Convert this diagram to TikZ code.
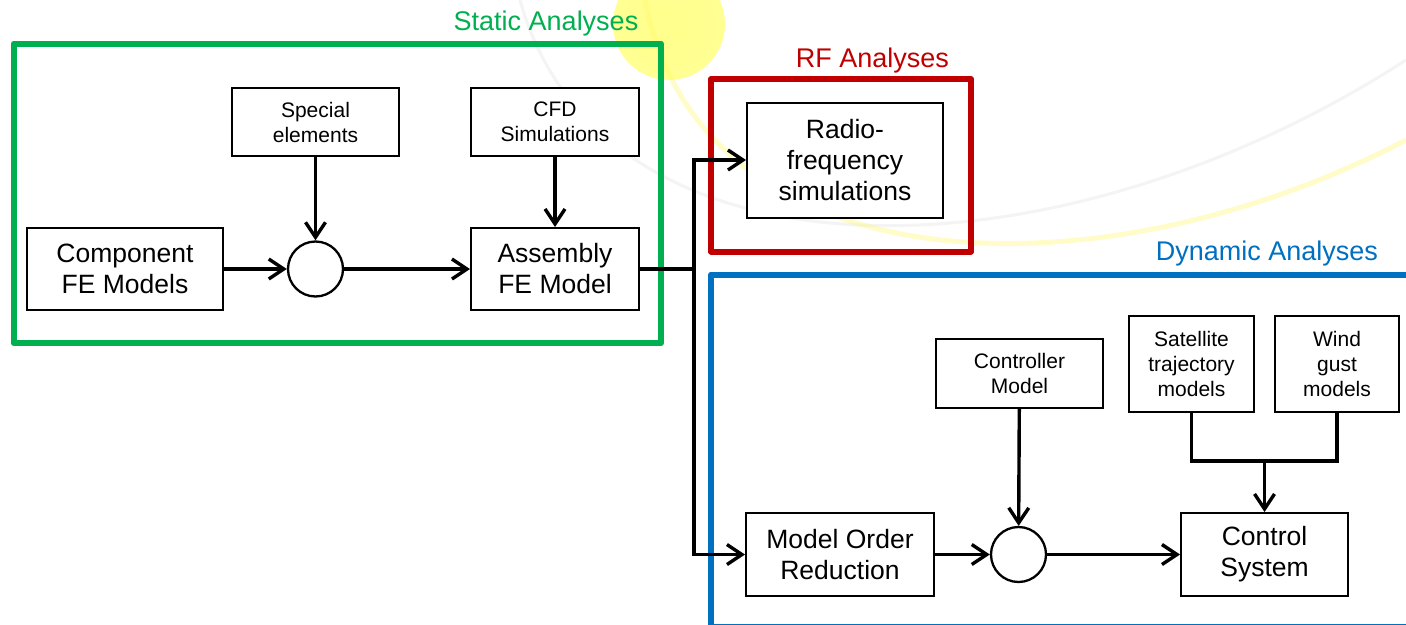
\documentclass[tikz,border=0pt]{standalone}
\usepackage{fontspec}
\setmainfont{Liberation Sans}
\usetikzlibrary{arrows.meta}
\definecolor{sgreen}{HTML}{00B050}
\definecolor{sred}{HTML}{C00000}
\definecolor{sblue}{HTML}{0070C0}
\pgfdeclareradialshading{sunshade}{\pgfpoint{0bp}{0bp}}{%
  color(0bp)=(yellow!45!white); color(30bp)=(yellow!42!white);
  color(40bp)=(yellow!30!white); color(46bp)=(yellow!12!white); color(50bp)=(white)}
\tikzset{
  bigbox/.style={draw, line width=2pt, fill=white, inner sep=0pt, align=center,
    font=\fontsize{26.5}{31}\selectfont},
  smallbox/.style={draw, line width=2pt, fill=white, inner sep=0pt, align=center,
    font=\fontsize{21}{25}\selectfont},
  junc/.style={draw, circle, line width=2.3pt, fill=white, inner sep=0pt, minimum size=55pt},
  conn/.style={line width=3.4pt},
  arr/.style={conn, -{Straight Barb[length=15pt,width=20pt]}},
  frame/.style={line width=6pt, line join=round},
  title/.style={anchor=base, font=\fontsize{27}{30}\selectfont}
}
\begin{document}
\begin{tikzpicture}[x=1pt,y=-1pt]
\clip (0,0) rectangle (1406,624);
\fill[white] (0,0) rectangle (1406,624);
% background decoration
\shade[shading=sunshade] (669,24) circle (56);
\draw[gray!9, line width=3pt] (520,0) .. controls (600,290) and (1050,290) .. (1406,60);
\draw[yellow!60!white, line width=5pt, opacity=0.35] (645,0) .. controls (700,290) and (1100,300) .. (1406,140);
% frames
\draw[frame, sgreen] (13.5,43.5) rectangle (661,343);
\draw[frame, sred] (711,79) rectangle (971,251.5);
\draw[frame, sblue] (711,625.5) -- (711,274.5) -- (1420,274.5);
\draw[frame, sblue, line width=3pt] (711,625) -- (1420,625);
\node[title, text=sgreen] (tstatic) at (546,30) {Static Analyses};
\node[title, text=sred] (trf) at (872.5,67) {RF Analyses};
\node[title, text=sblue] (tdyn) at (1267,260) {Dynamic Analyses};
% static nodes
\node[bigbox, minimum width=196pt, minimum height=82pt] (comp) at (125,269) {Component\\FE Models};
\node[smallbox, minimum width=167pt, minimum height=68pt] (spec) at (315.5,122) {Special\\elements};
\node[smallbox, minimum width=168pt, minimum height=68pt] (cfd) at (555,122) {CFD\\Simulations};
\node[bigbox, minimum width=168pt, minimum height=82pt] (asm) at (555,269) {Assembly\\FE Model};
\node[junc] (c1) at (315.5,269) {};
% RF node
\node[bigbox, minimum width=196pt, minimum height=115pt] (rf) at (845,160) {Radio-\\frequency\\simulations};
% dynamic nodes
\node[bigbox, minimum width=188pt, minimum height=83pt] (mor) at (840,554.5) {Model Order\\Reduction};
\node[junc] (c2) at (1018.5,554.5) {};
\node[smallbox, minimum width=167pt, minimum height=69pt] (ctrlm) at (1019.5,373.5) {Controller\\Model};
\node[smallbox, minimum width=125pt, minimum height=96pt] (sat) at (1191.5,364) {Satellite\\trajectory\\models};
\node[smallbox, minimum width=124pt, minimum height=96pt] (wind) at (1337,364) {Wind\\gust\\models};
\node[bigbox, minimum width=167pt, minimum height=83pt] (ctl) at (1264.5,554.5) {Control\\System};
% connectors
\draw[arr] (comp) -- (c1);
\draw[arr] (spec) -- (c1);
\draw[arr] (c1) -- (asm);
\draw[arr] (cfd) -- (asm);
\coordinate (j1) at (694,269);
\draw[conn] (asm.east) -- (j1);
\draw[arr] (j1) |- (rf.west);
\draw[arr] (j1) |- (mor.west);
\draw[arr] (mor) -- (c2);
\draw[arr] (ctrlm) -- (c2);
\draw[arr] (c2) -- (ctl);
\coordinate (m) at (1264.5,461);
\draw[conn] (sat.south) |- (m) -| (wind.south);
\draw[arr] (m) -- (ctl.north);
\end{tikzpicture}
\end{document}
